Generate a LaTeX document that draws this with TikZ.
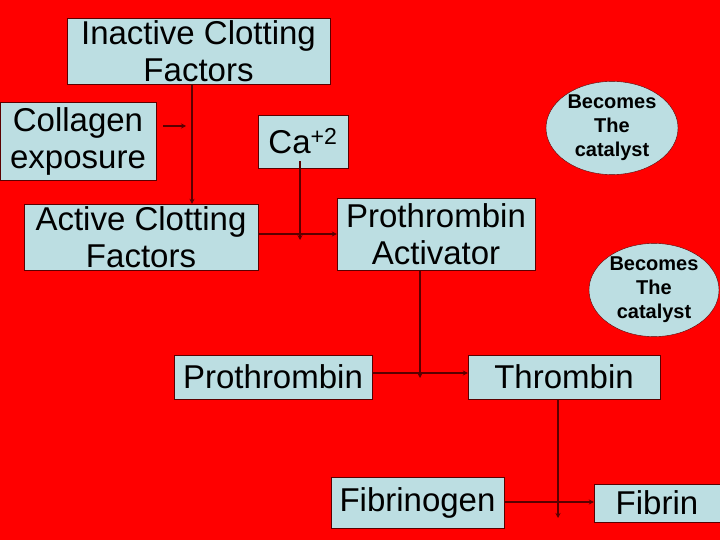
\documentclass[tikz,border=0pt]{standalone}
\usepackage{fontspec}
\setmainfont{Liberation Sans}
\usetikzlibrary{shapes.geometric,arrows.meta}
\definecolor{bg}{RGB}{255,0,0}
\definecolor{boxc}{RGB}{188,222,226}
\definecolor{ln}{RGB}{90,0,0}
\begin{document}
\begin{tikzpicture}[x=1pt,y=-1pt,
 box/.style={draw=ln,fill=boxc,inner sep=0pt,align=center,font=\fontsize{33}{37}\selectfont},
 ell/.style={ellipse,draw=ln,fill=boxc,inner sep=0pt,align=center,font=\bfseries\fontsize{20}{24}\selectfont},
 arr/.style={draw=ln,line width=1.2pt,-{Stealth[length=5pt,width=5pt]}}]
\fill[bg] (0,0) rectangle (720,540);
\useasboundingbox (0,0) rectangle (720,540);
\node[box,minimum width=263,minimum height=66] (ina) at (198.5,51) {Inactive Clotting\\Factors};
\node[box,minimum width=156,minimum height=78] (col) at (78,141) {Collagen\\exposure};
\node[box,minimum width=90,minimum height=53] (ca) at (303,141.5) {Ca\textsuperscript{+2}};
\node[box,minimum width=234,minimum height=66] (act) at (141,237) {Active Clotting\\Factors};
\node[box,minimum width=198,minimum height=72] (pa) at (436,234) {Prothrombin\\Activator};
\node[ell,minimum width=132,minimum height=90] (e1) at (612,128) {Becomes\\The\\catalyst};
\node[ell,minimum width=130,minimum height=92] (e2) at (654,290) {Becomes\\The\\catalyst};
\node[box,minimum width=198,minimum height=44] (pro) at (273,377) {Prothrombin};
\node[box,minimum width=192,minimum height=44] (thr) at (564,377) {Thrombin};
\node[box,minimum width=173,minimum height=51] (fbg) at (417.5,502.5) {Fibrinogen};
\node[box,minimum width=126,minimum height=38] (fbn) at (657,503) {Fibrin};
\coordinate (j1) at (192,126);
\coordinate (j2) at (300,234);
\coordinate (j3) at (420,373);
\coordinate (j4) at (558,502);
\draw[arr] (ina.south -| j1) -- (act.north -| j1);
\draw[arr] ([xshift=7]col.east |- j1) -- ([xshift=-6]j1);
\draw[arr] ([yshift=7]ca.south -| j2) -- ([yshift=-6]j2);
\draw[arr] (act.east |- j2) -- (pa.west |- j2);
\draw[arr] (pa.south -| j3) -- ([yshift=-5]j3);
\draw[arr] (pro.east |- j3) -- (thr.west |- j3);
\draw[arr] (thr.south -| j4) -- ([yshift=-16]j4);
\draw[arr] (fbg.east |- j4) -- (fbn.west |- j4);
\end{tikzpicture}
\end{document}
